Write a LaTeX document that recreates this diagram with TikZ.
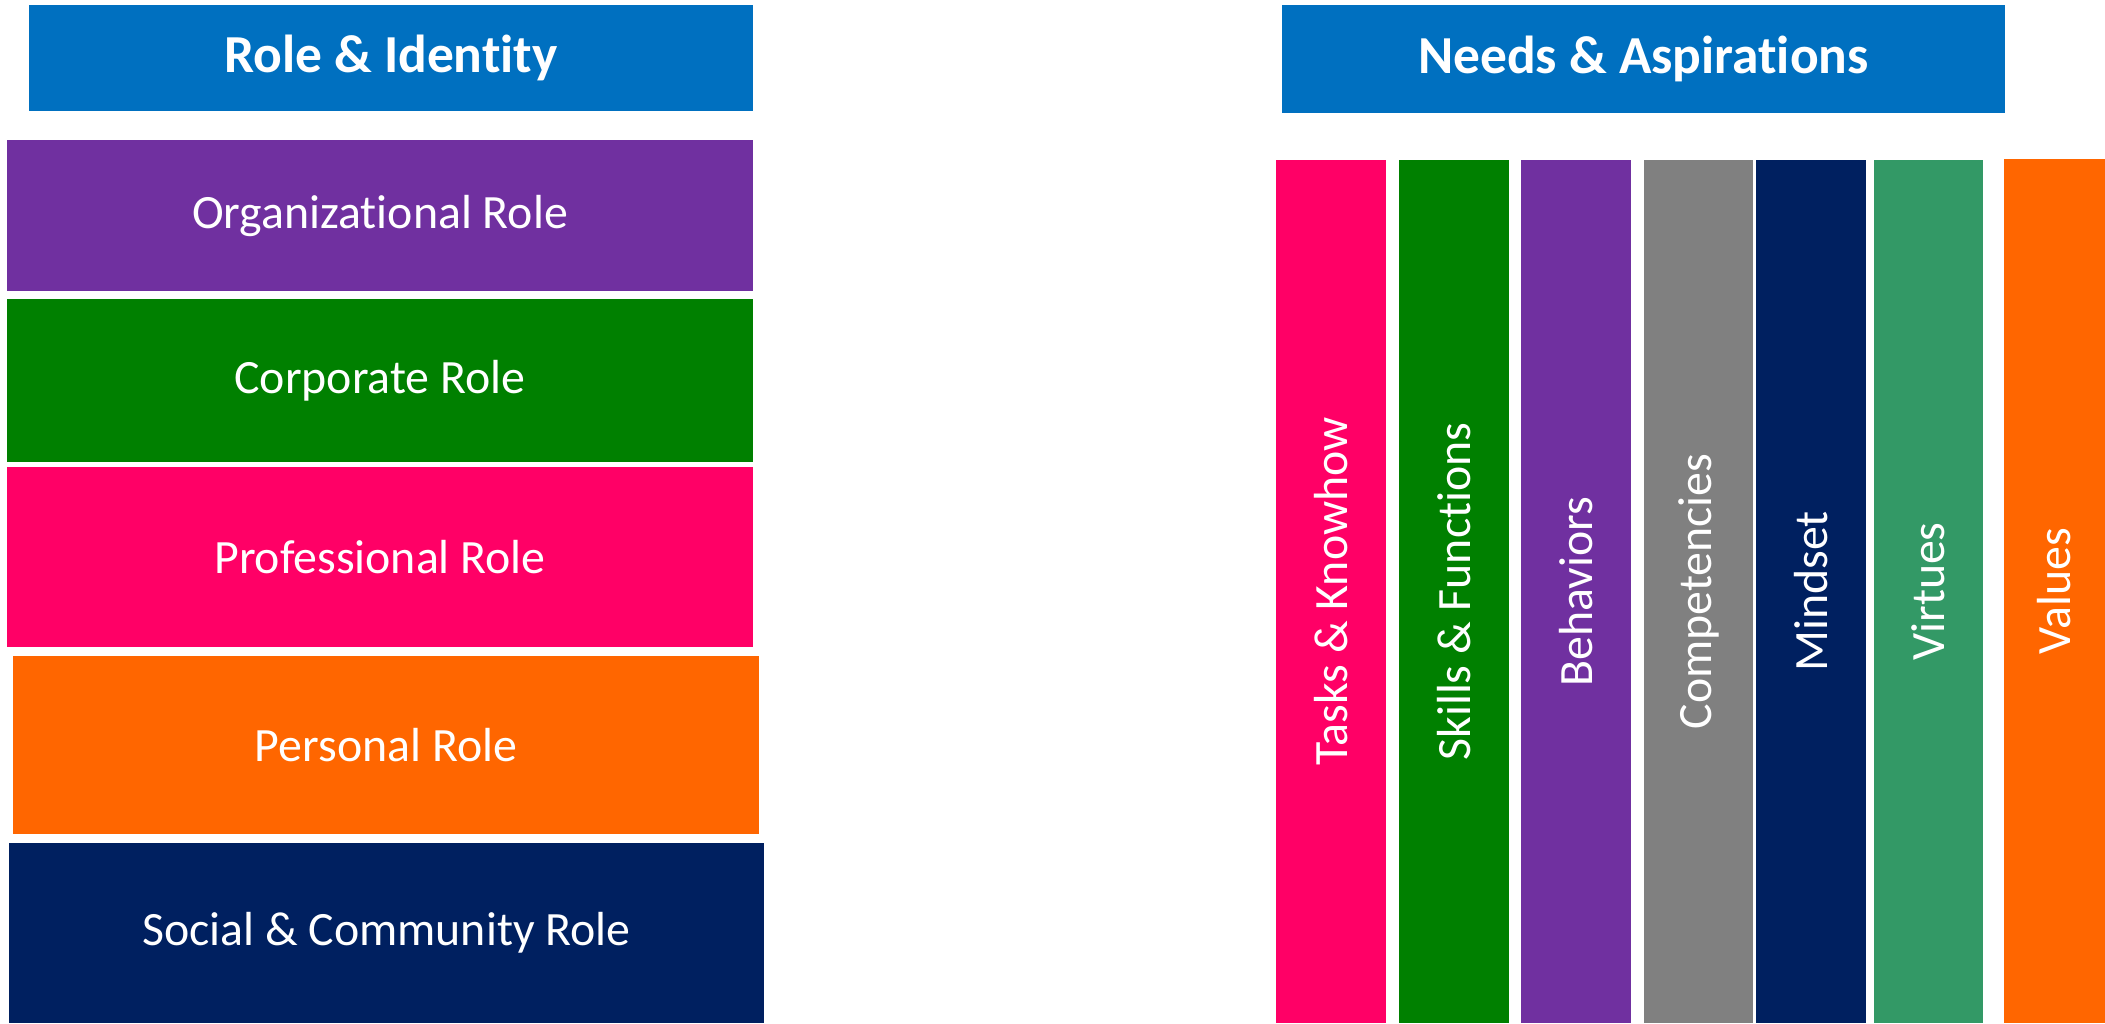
\documentclass[tikz,border=0pt]{standalone}
\usepackage{fontspec}
\setmainfont{Carlito}[Ligatures=NoCommon]
\usetikzlibrary{positioning}

\definecolor{headblue}{HTML}{0070C0}
\definecolor{rolepurple}{HTML}{7030A0}
\definecolor{rolegreen}{HTML}{008000}
\definecolor{rolepink}{HTML}{FF0066}
\definecolor{roleorange}{HTML}{FF6600}
\definecolor{rolenavy}{HTML}{002060}
\definecolor{rolegray}{HTML}{808080}
\definecolor{roleseagreen}{HTML}{339966}

\begin{document}
\begin{tikzpicture}[x=0.01cm,y=-0.01cm,
    box/.style={fill=#1,text=white,inner sep=0pt,outer sep=0pt,
        font=\fontsize{13.6}{16}\selectfont},
    head/.style={box=headblue,font=\fontsize{15.2}{18}\selectfont\bfseries},
    bar/.style={box=#1,rotate=90,minimum width=8.63cm}]
\useasboundingbox (0,0) rectangle (2105,1023);
% left column
\node (roles) [head,minimum width=7.24cm,minimum height=1.06cm] at (391,58) {Role \& Identity};
\node (org) [box=rolepurple,minimum width=7.46cm,minimum height=1.51cm] at (380,215.5) {Organizational Role};
\node (corp) [box=rolegreen,minimum width=7.46cm,minimum height=1.63cm] at (380,380.5) {Corporate Role};
\node (prof) [box=rolepink,minimum width=7.46cm,minimum height=1.80cm] at (380,557) {Professional Role};
\node (pers) [box=roleorange,minimum width=7.46cm,minimum height=1.78cm] at (386,745) {Personal Role};
\node (soc) [box=rolenavy,minimum width=7.55cm,minimum height=1.80cm] at (386.5,933) {Social \& Community Role};
% right column
\node (needs) [head,minimum width=7.23cm,minimum height=1.08cm] at (1643.5,59) {Needs \& Aspirations};
\node (tasks) [bar=rolepink,minimum height=1.10cm] at (1331,591.5) {Tasks \& Knowhow};
\node (skills) [bar=rolegreen,minimum height=1.10cm] at (1454,591.5) {Skills \& Functions};
\node (behav) [bar=rolepurple,minimum height=1.10cm] at (1576,591.5) {Behaviors};
\node (comp) [bar=rolegray,minimum height=1.09cm] at (1698.5,591.5) {Competencies};
\node (mind) [bar=rolenavy,minimum height=1.10cm] at (1811,591.5) {Mindset};
\node (virt) [bar=roleseagreen,minimum height=1.09cm] at (1928.5,591.5) {Virtues};
\node (vals) [bar=roleorange,minimum width=8.64cm,minimum height=1.01cm] at (2054.5,591) {Values};
\end{tikzpicture}
\end{document}
